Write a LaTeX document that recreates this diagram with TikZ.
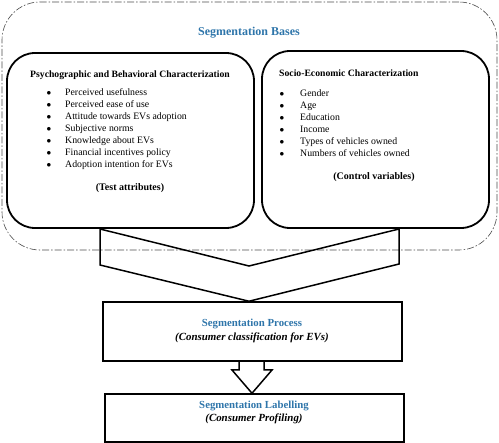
\documentclass[tikz,border=0pt]{standalone}
\usepackage{fontspec}
\setmainfont{Liberation Serif}
\definecolor{segblue}{RGB}{46,117,170}
\begin{document}
\begin{tikzpicture}[x=1pt,y=-1pt,
  outerbox/.style={draw=black!70, line width=0.6pt, dash pattern=on 7pt off 2pt on 1.5pt off 2pt, rounded corners=38pt, inner sep=0pt},
  innerbox/.style={draw=black, line width=1.8pt, rounded corners=28pt, inner sep=0pt},
  flowbox/.style={draw=black, line width=1.5pt, inner sep=0pt},
  arrowshape/.style={draw=black, line width=1.5pt, line join=miter},
  head/.style={font=\fontsize{9.7}{11}\selectfont\bfseries, anchor=west, inner sep=0pt, text height=6.5pt, text depth=2pt},
  item/.style={font=\fontsize{9.8}{11}\selectfont, anchor=west, inner sep=0pt, text height=6.5pt, text depth=2pt},
  bul/.style={font=\fontsize{9}{9}\selectfont, inner sep=0pt},
  note/.style={font=\fontsize{10}{11}\selectfont\bfseries, inner sep=0pt},
  bluetitle/.style={font=\fontsize{12}{13}\selectfont\bfseries, text=segblue, inner sep=0pt},
  flowtitle/.style={font=\fontsize{10.8}{12}\selectfont\bfseries, text=segblue, inner sep=0pt},
  subtitle/.style={font=\fontsize{10.9}{12}\selectfont\bfseries\itshape, inner sep=0pt}
]
\useasboundingbox (0,0) rectangle (499,443);
% outer dash-dot region
\node[outerbox, minimum width=495pt, minimum height=248pt] (outer) at (249.5,126) {};
\node[bluetitle] (ttl) at (249,33) {Segmentation Bases};
% left box
\node[innerbox, minimum width=247pt, minimum height=175pt] (left) at (130.5,140.5) {};
\node[head] (lh) at (30,75) {Psychographic and Behavioral Characterization};
\foreach \t [count=\i] in {Perceived usefulness,Perceived ease of use,Attitude towards EVs adoption,Subjective norms,Knowledge about EVs,Financial incentives policy,Adoption intention for EVs}{
  \node[bul] (lb\i) at (49,{81+12*\i}) {$\bullet$};
  \node[item] (li\i) at (65,{81+12*\i}) {\t};
}
\node[note] (ln) at (130,188) {(Test attributes)};
% right box
\node[innerbox, minimum width=227pt, minimum height=177pt] (right) at (375.5,139.5) {};
\node[head] (rh) at (279,74) {Socio-Economic Characterization};
\foreach \t [count=\i] in {Gender,Age,Education,Income,Types of vehicles owned,Numbers of vehicles owned}{
  \node[bul] (rb\i) at (282,{82+12*\i}) {$\bullet$};
  \node[item] (ri\i) at (300,{82+12*\i}) {\t};
}
\node[note] (rn) at (374,177) {(Control variables)};
% process box
\node[flowbox, minimum width=299pt, minimum height=59pt] (proc) at (252.5,331.5) {};
\node[flowtitle] (pt) at (252,324) {Segmentation Process};
\node[subtitle] (ps) at (252,338) {(Consumer classification for EVs)};
% label box
\node[flowbox, minimum width=299pt, minimum height=48pt] (lab) at (254.5,418) {};
\node[flowtitle] (lt) at (254,406) {Segmentation Labelling};
\node[subtitle] (ls) at (254,419) {(Consumer Profiling)};
% big chevron arrow
\coordinate (cA) at (100,229);
\coordinate (cB) at (100,265);
\coordinate (cC) at (proc.north -| 249,0);
\coordinate (cD) at (399,264);
\coordinate (cE) at (399,229);
\coordinate (cF) at (249,266);
\draw[arrowshape] (cA) -- (cB) -- (cC) -- (cD) -- (cE) -- (cF) -- cycle;
% small block arrow
\coordinate (s1) at (proc.south -| 239,0);
\coordinate (s2) at (proc.south -| 264,0);
\coordinate (t) at (lab.north -| 252,0);
\draw[arrowshape] (s1) -- (239,370) -- (232,370) -- (t) -- (272,370) -- (264,370) -- (s2);
\end{tikzpicture}
\end{document}
